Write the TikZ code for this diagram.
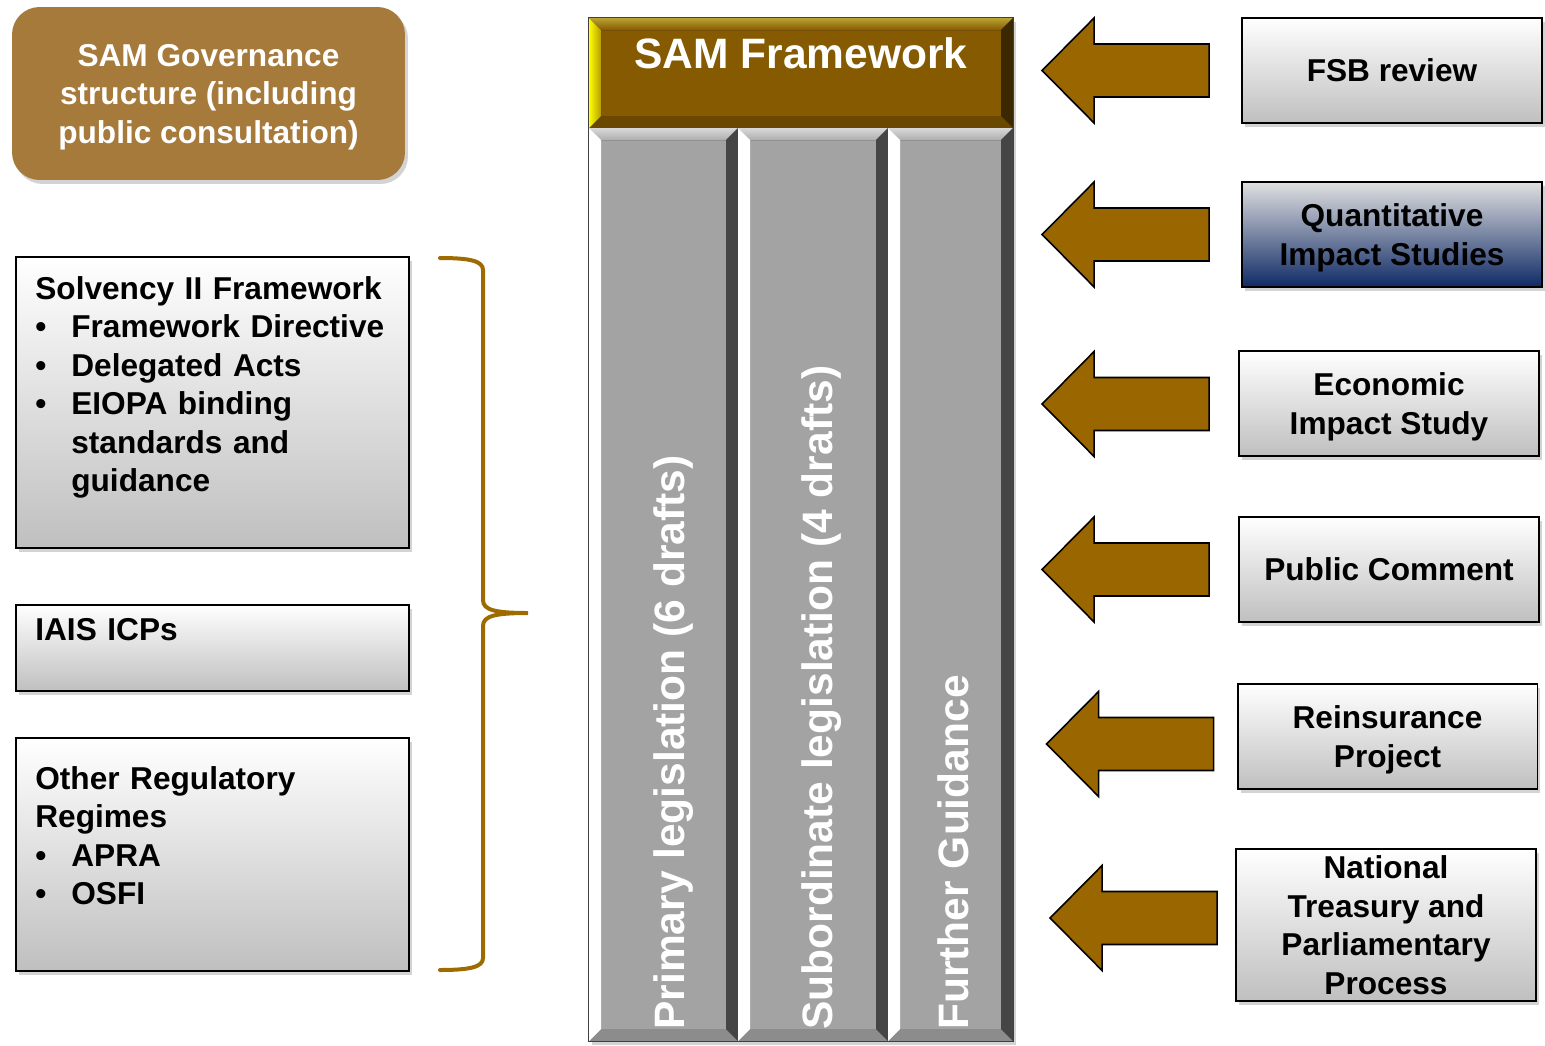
\documentclass[tikz,border=0pt]{standalone}
\usepackage{fontspec}
\setmainfont{Liberation Sans}
\usetikzlibrary{calc,shadows}

\definecolor{samgold}{HTML}{A67A3B}
\definecolor{framebrown}{HTML}{855A00}
\definecolor{arrowbrown}{HTML}{996600}
\definecolor{bracebrown}{HTML}{9E6B00}
\definecolor{colgray}{HTML}{A3A3A3}
\definecolor{qisnavy}{HTML}{0F2A66}

% bullet line for the left boxes
\newcommand{\bitem}[1]{\makebox[0.72cm][l]{\textbullet}#1}
% bevelled panel: x1 y1 x2 y2, main, top, left, right, bottom
\newcommand{\bevelbox}[9]{%
  \fill[#5] (#1,#2) rectangle (#3,#4);
  \fill[#6] (#1,#2) -- (#3,#2) -- (#3-12,#2+12) -- (#1+12,#2+12) -- cycle;
  \fill[#9] (#1,#4) -- (#3,#4) -- (#3-12,#4-12) -- (#1+12,#4-12) -- cycle;
  \fill[#7] (#1,#2) -- (#1+12,#2+12) -- (#1+12,#4-12) -- (#1,#4) -- cycle;
  \fill[#8] (#3,#2) -- (#3,#4) -- (#3-12,#4-12) -- (#3-12,#2+12) -- cycle;
}

\tikzset{
  boxshadow/.style={drop shadow={opacity=0.35, shadow xshift=0.06cm, shadow yshift=-0.08cm}},
  graybox/.style={draw=black, line width=1.1pt, top color=white, bottom color=black!25,
    boxshadow, inner sep=0pt, minimum width=6cm, align=center, text depth=0pt},
  lefttxt/.style={anchor=north west, inner sep=0pt, text width=7.4cm, align=left},
  inarrow/.style={fill=arrowbrown, draw=black, line width=0.9pt, line join=miter},
  vertxt/.style={rotate=90, anchor=base west, inner sep=0pt, text=white,
    font=\bfseries\fontsize{24.2}{29}\selectfont},
}

\begin{document}
\begin{tikzpicture}[x=0.02cm, y=-0.02cm,
  every node/.append style={font=\bfseries\fontsize{18}{21.9}\selectfont}]
  \useasboundingbox (0,0) rectangle (1545,1045);

  % governance box
  \node[fill=samgold, rounded corners=0.55cm, minimum width=7.86cm, minimum height=3.46cm,
    text=white, align=center, text depth=0pt, boxshadow] (gov) at (208.5,93.5)
    {SAM Governance\\structure (including\\public consultation)};

  % left boxes
  \node[graybox, anchor=north west, minimum width=7.86cm, minimum height=5.82cm] (solv) at (15,256) {};
  \node[lefttxt] (solvtxt) at ($(solv.north west)+(20,20)$)
    {Solvency II Framework\\
     \bitem{Framework Directive}\\
     \bitem{Delegated Acts}\\
     \bitem{EIOPA binding}\\
     \hspace*{0.72cm}standards and\\
     \hspace*{0.72cm}guidance};
  \node[graybox, anchor=north west, minimum width=7.86cm, minimum height=1.72cm] (iais) at (15,604) {};
  \node[lefttxt] (iaistxt) at ($(iais.north west)+(20,14)$) {IAIS ICPs};
  \node[graybox, anchor=north west, minimum width=7.86cm, minimum height=4.66cm] (other) at (15,737) {};
  \node[lefttxt] (othertxt) at ($(other.north west)+(20,29)$)
    {Other Regulatory\\Regimes\\\bitem{APRA}\\\bitem{OSFI}};

  % brace
  \coordinate (brtop) at (440,258);
  \coordinate (brtip) at (528,613);
  \coordinate (brbot) at (440,970);
  \draw[bracebrown, line width=0.08cm, line cap=round]
    (brtop) .. controls (470,258) and (483,261) .. (483,270) -- (483,600)
    .. controls (483,610) and (495,613) .. (brtip)
    .. controls (495,613) and (483,616) .. (483,626) -- (483,958)
    .. controls (483,967) and (470,970) .. (brbot);

  % framework block
  \node[minimum width=8.48cm, minimum height=20.46cm, fill=colgray, boxshadow, inner sep=0pt]
    (fw) at (801,529.5) {};
  \bevelbox{589}{18}{1013}{128}{framebrown}{top color=framebrown!70!yellow!80!white, bottom color=framebrown}%
    {left color=yellow, right color=framebrown!60!yellow}{fill=framebrown!45!black}{fill=framebrown!80!black}
  \foreach \xa/\xb in {589/738, 738/888, 888/1013} {
    \bevelbox{\xa}{128}{\xb}{1041}{colgray}{top color=black!15, bottom color=black!32}%
      {fill=white}{fill=black!73}{fill=black!45}
  }
  \draw[black!75, line width=0.6pt] (fw.north west) rectangle (fw.south east);
  \node[text=white, font=\bfseries\fontsize{24.2}{29}\selectfont] (fwtitle) at (801,53) {SAM Framework};
  \node[vertxt] (primary) at (684,1030) {Primary legislation (6 drafts)};
  \node[vertxt] (subord) at (832,1030) {Subordinate legislation (4 drafts)};
  \node[vertxt] (further) at (968,1030) {Further Guidance};

  % right boxes
  \foreach \name/\x/\y/\h/\txt in {fsb/1392/70.5/2.1cm/{FSB review},
      econ/1389/403.5/2.1cm/{Economic\\Impact Study},
      pubcom/1389/569.5/2.1cm/{Public Comment},
      reins/1387.5/736.5/2.1cm/{Reinsurance\\Project},
      treasury/1386/925/3.04cm/{National\\Treasury and\\Parliamentary\\Process}}
    \node[graybox, minimum height=\h] (\name) at (\x,\y) {\txt};
  \node[graybox, minimum height=2.1cm, top color=black!12, bottom color=qisnavy] (qis) at (1392,234.5)
    {Quantitative\\Impact Studies};

  % block arrows into the framework
  \foreach \name/\gap/\dy in {fsb/32/0, qis/32/0, econ/29/0.5, pubcom/29/0, reins/23/7.5, treasury/18/-7}
    \draw[inarrow] ($(\name.west)+(-\gap-167,\dy)$) -- ++(52,-52.5) -- ++(0,26) -- ++(115,0)
      -- ++(0,53) -- ++(-115,0) -- ++(0,26) -- cycle;
\end{tikzpicture}
\end{document}
